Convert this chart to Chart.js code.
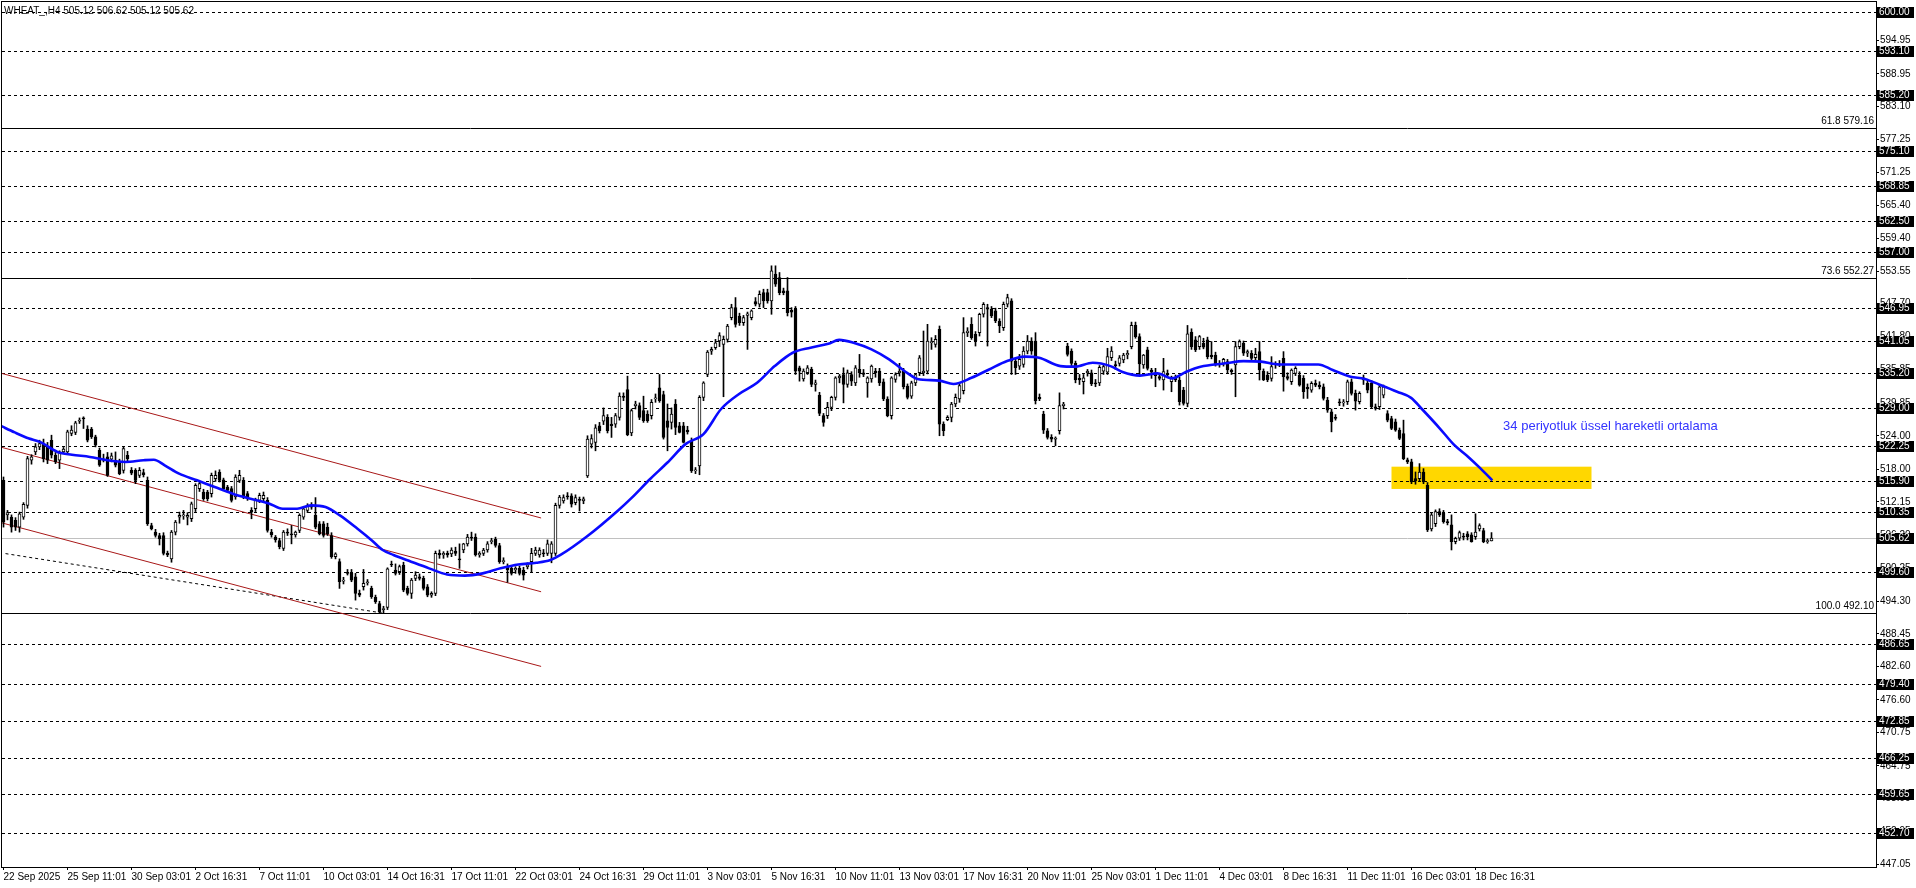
<!DOCTYPE html>
<html>
<head>
<meta charset="utf-8">
<script src="https://cdn.jsdelivr.net/npm/chart.js@4.4.1/dist/chart.umd.min.js"></script>
<style>
  html, body { margin: 0; padding: 0; background: #fff; overflow: hidden; }
  canvas { display: block; }
</style>
</head>
<body>
<canvas id="chart" width="1916" height="888"></canvas>
<script>
// WHEAT H4 candles
const opens = [
  516.0,509.8,509.4,508.8,507.6,509.4,511.5,519.6,521.1,522.0,
  522.6,522.0,523.2,520.5,519.6,521.1,521.1,524.4,524.6,526.6,
  527.2,525.2,525.2,523.8,521.4,519.8,520.2,519.8,519.6,519.3,
  517.8,520.5,517.8,517.8,516.9,517.4,516.0,507.9,506.7,506.1,
  506.1,502.9,501.9,506.7,509.4,509.6,509.4,509.1,510.9,514.5,
  513.9,513.9,513.6,516.3,517.5,516.1,514.8,514.5,513.0,516.0,
  516.0,513.6,510.6,510.9,512.4,512.7,512.4,506.7,505.8,505.2,
  503.8,506.7,506.4,506.2,507.0,509.4,510.6,511.5,509.7,508.2,
  508.2,507.6,506.1,502.3,501.4,497.9,499.5,499.3,498.7,495.7,
  496.9,497.6,496.6,495.0,493.9,492.8,493.2,500.9,499.9,499.6,
  500.8,496.6,495.7,498.4,498.7,498.4,496.9,495.4,495.7,502.9,
  502.6,502.9,502.8,503.3,501.9,503.5,504.6,505.8,505.8,502.6,
  502.9,503.5,505.0,505.4,504.3,501.4,500.5,500.2,499.9,500.2,
  499.9,500.5,501.4,502.9,502.6,503.0,502.9,502.9,502.9,511.5,
  512.3,513.2,513.2,512.0,512.6,512.3,516.8,522.5,522.8,525.8,
  526.6,527.3,526.1,526.1,527.3,531.1,532.3,524.5,529.4,529.4,
  528.5,527.9,527.6,530.6,532.6,531.4,526.7,526.4,529.7,525.8,
  525.8,525.0,523.1,517.7,518.6,530.9,535.0,539.2,539.8,541.0,
  540.4,541.3,545.2,547.0,545.5,544.3,545.6,545.2,548.1,547.6,
  549.7,549.7,548.2,553.0,552.4,550.0,550.0,546.5,546.7,536.2,
  534.2,535.3,535.9,533.2,531.3,527.6,527.6,529.1,530.9,534.4,
  535.0,533.2,535.0,533.5,535.9,535.3,533.5,534.2,535.6,535.6,
  533.7,530.6,527.6,534.1,535.3,535.6,532.9,531.1,533.5,535.3,
  535.3,535.6,540.7,540.4,543.1,526.1,526.9,527.3,529.7,530.6,
  532.1,542.5,544.0,542.2,542.5,545.8,547.0,546.7,546.4,544.6,
  543.4,547.6,548.2,537.4,536.5,536.8,539.2,541.0,541.0,530.9,
  527.9,524.9,523.7,523.4,524.9,529.4,540.1,539.2,537.0,534.3,
  533.7,535.3,535.3,533.5,533.5,535.6,535.4,538.0,536.6,537.0,
  537.6,538.5,540.0,543.8,541.8,536.7,539.4,535.8,535.3,534.6,
  534.0,535.2,533.7,534.3,534.0,532.2,529.8,542.6,541.2,540.0,
  540.6,541.2,538.5,538.5,537.0,537.0,537.3,535.8,536.7,540.0,
  540.6,538.8,538.8,538.0,539.1,535.6,534.9,534.3,536.7,536.9,
  537.9,534.6,533.7,535.2,534.9,534.3,532.7,532.2,533.4,533.1,
  532.8,530.4,528.3,527.3,530.0,529.9,530.1,533.7,531.6,530.1,
  534.0,533.4,533.4,529.2,529.2,531.3,528.0,527.1,526.5,525.0,
  524.4,519.7,519.3,516.3,516.3,517.5,515.1,507.3,508.2,510.4,
  510.1,508.6,508.0,505.0,505.6,506.0,506.4,506.2,505.9,507.3,
  507.0,505.0,505.12
];
const highs = [
  516.6,510.6,509.8,509.3,510.3,512.0,520.3,520.6,522.6,523.2,
  523.4,522.8,524.1,521.0,521.3,521.9,525.0,525.8,526.6,527.2,
  527.4,525.8,525.5,524.1,521.8,520.7,521.0,520.9,521.1,519.8,
  522.0,521.2,518.3,518.1,518.3,518.0,516.6,508.3,507.2,506.5,
  506.6,503.3,507.0,508.8,510.3,510.6,510.2,512.1,515.4,515.8,
  514.4,514.2,517.3,517.7,517.9,516.4,515.1,514.9,517.0,517.8,
  516.5,514.0,511.1,512.8,513.7,513.9,512.9,507.2,506.1,505.6,
  507.0,507.3,507.9,506.9,510.0,511.2,511.8,512.0,512.9,508.6,
  508.6,508.3,506.6,503.0,501.9,498.6,500.0,500.0,499.3,496.3,
  500.0,498.2,497.0,495.4,494.3,493.4,500.3,501.5,501.0,500.8,
  501.3,497.0,498.4,499.6,499.2,498.8,497.3,496.0,503.3,503.5,
  503.2,503.3,503.9,504.0,504.6,504.7,506.3,506.7,506.4,503.2,
  503.8,505.0,505.6,505.8,504.7,502.1,501.0,500.6,500.5,500.6,
  500.4,501.2,503.8,504.0,503.9,503.6,505.3,505.0,511.9,513.3,
  513.4,513.8,513.6,513.4,513.0,513.0,524.0,524.2,526.0,526.4,
  529.0,527.8,527.3,528.0,531.7,531.7,534.7,528.8,530.2,529.9,
  531.1,528.5,530.5,531.5,535.0,532.0,529.7,529.0,530.5,526.4,
  526.4,525.7,523.6,518.3,531.2,533.7,539.3,539.9,541.3,542.5,
  541.9,544.0,547.6,548.8,546.0,545.6,546.2,546.6,548.8,550.0,
  550.3,550.3,554.5,554.5,553.3,550.5,552.4,547.0,547.2,536.5,
  536.0,536.6,536.3,534.0,531.8,528.0,530.0,531.1,534.6,535.0,
  536.2,535.8,535.5,536.6,538.6,535.9,534.6,536.7,536.1,536.1,
  534.2,531.0,534.6,535.3,537.0,536.1,533.3,533.8,535.2,538.4,
  542.8,544.0,541.6,542.0,543.7,526.5,527.6,530.0,531.5,533.5,
  545.2,543.4,545.2,542.7,546.0,547.9,547.6,547.2,546.9,545.0,
  548.0,549.4,548.6,537.9,538.6,540.0,542.0,541.6,542.5,531.5,
  528.4,525.3,524.2,523.8,531.7,530.0,540.6,539.6,537.4,535.0,
  535.0,535.9,535.8,534.1,536.6,537.0,539.7,540.0,537.4,538.4,
  538.8,539.3,544.4,544.4,542.3,538.6,539.9,536.1,536.1,535.2,
  537.9,535.8,534.7,534.9,534.5,532.7,543.8,543.2,541.8,542.0,
  541.5,541.7,540.9,539.0,537.5,537.9,537.7,536.0,540.9,541.2,
  541.0,539.4,539.3,539.7,540.9,536.0,535.5,538.2,537.3,537.5,
  539.1,535.3,536.0,536.4,535.5,534.8,533.3,533.7,534.0,533.7,
  533.3,530.9,528.8,527.8,530.6,530.5,534.0,534.2,532.2,531.9,
  534.9,533.8,533.9,529.7,533.1,533.1,528.5,527.5,527.0,525.4,
  526.8,520.0,519.8,517.5,519.0,518.1,515.6,510.1,510.7,510.9,
  510.6,509.0,509.8,505.8,506.9,506.5,506.8,506.6,510.0,508.2,
  507.4,505.5,506.62
];
const lows = [
  507.6,508.9,506.7,507.0,506.7,509.0,511.0,518.9,520.6,521.5,
  519.3,519.0,520.0,519.0,518.1,520.8,520.8,524.0,524.2,526.2,
  525.3,522.9,523.5,522.0,518.5,519.3,516.7,519.3,518.4,517.0,
  517.3,519.4,517.0,515.4,516.5,516.6,507.9,507.1,505.8,504.4,
  502.6,502.3,501.3,506.2,508.3,509.0,508.0,508.6,510.4,514.0,
  512.4,512.3,513.0,515.8,515.7,514.3,514.0,512.1,512.6,515.6,
  512.7,512.4,509.1,510.4,512.0,512.2,506.7,505.8,504.9,503.7,
  503.4,506.1,504.6,505.8,506.6,509.0,510.2,510.8,507.3,506.2,
  505.8,506.1,502.0,501.9,496.6,497.4,499.0,497.8,494.5,495.1,
  496.3,497.2,494.8,493.9,492.1,492.2,492.8,500.5,499.0,499.1,
  496.0,495.4,494.8,498.0,498.1,496.3,495.1,495.0,495.3,502.0,
  502.0,502.2,502.3,502.5,500.2,503.0,504.2,505.2,502.4,502.2,
  502.5,503.1,504.6,504.0,501.1,501.0,497.7,499.0,499.3,499.0,
  498.1,500.1,499.6,502.5,502.2,502.3,502.5,501.2,502.5,511.0,
  511.9,512.6,511.2,511.6,510.5,511.8,516.5,521.8,521.3,524.5,
  526.0,524.5,523.7,525.5,526.8,530.3,524.0,524.0,528.8,526.9,
  526.4,526.4,527.0,530.0,530.0,523.4,521.3,525.2,524.2,524.5,
  522.7,524.3,517.4,517.2,517.0,530.3,534.6,538.6,539.5,540.0,
  531.0,540.8,544.8,543.5,543.8,543.8,539.5,544.8,547.3,547.1,
  547.0,547.8,545.8,550.8,549.3,549.3,545.5,545.3,535.0,533.8,
  533.8,535.0,532.8,532.0,527.6,525.7,527.1,528.5,530.4,533.5,
  529.9,532.7,533.0,533.0,534.5,534.6,530.9,533.6,534.5,533.0,
  530.3,527.4,527.0,533.6,534.7,532.4,530.6,530.7,533.0,534.8,
  534.8,535.1,539.5,539.9,524.0,524.0,526.7,526.5,529.2,530.0,
  531.5,541.8,541.3,540.1,541.9,545.3,540.1,545.2,544.3,542.5,
  542.9,547.1,535.0,535.0,535.9,536.3,538.7,538.6,529.7,530.3,
  524.4,523.4,522.9,522.2,524.3,528.8,538.3,536.3,533.5,533.2,
  531.5,534.7,533.0,532.8,533.0,535.0,535.0,537.5,535.9,536.5,
  537.1,537.8,539.6,541.5,534.9,536.1,535.8,534.3,532.8,534.0,
  532.2,534.6,531.9,533.7,529.5,529.5,529.2,539.5,539.1,539.5,
  539.6,537.8,537.8,536.5,536.3,536.5,535.2,535.0,531.0,539.6,
  538.4,538.2,537.5,537.6,534.0,533.9,533.7,533.8,536.1,536.4,
  532.0,534.0,533.2,534.8,532.9,530.7,530.7,531.8,532.8,532.4,
  530.4,528.2,524.7,526.8,529.4,529.3,529.6,531.3,528.6,529.7,
  533.2,531.7,528.9,528.6,528.7,530.8,526.5,525.1,524.8,523.3,
  519.7,519.0,515.4,515.3,515.9,515.4,506.8,506.9,507.7,509.5,
  508.3,508.0,503.5,504.6,505.2,505.3,505.3,504.9,505.4,506.9,
  504.8,504.7,505.12
];
const closes = [
  508.5,510.2,507.6,507.6,510.0,511.7,519.9,520.2,522.0,522.6,
  519.9,519.6,520.5,519.3,521.1,521.6,524.7,525.0,526.3,526.8,
  527.0,523.2,523.8,522.3,518.7,519.6,516.9,520.4,518.7,517.2,
  521.7,519.9,517.3,516.0,517.8,517.0,508.2,507.3,506.1,505.5,
  502.9,502.6,506.7,508.5,509.7,509.8,509.7,511.8,515.1,515.4,
  512.7,512.7,516.9,516.9,516.0,514.5,514.2,512.4,516.6,516.9,
  513.0,512.7,510.3,512.4,513.3,513.3,507.0,506.2,505.3,504.1,
  506.7,506.5,506.2,506.7,509.7,510.9,511.5,511.2,507.6,506.4,
  506.1,506.4,502.3,502.8,497.8,498.1,499.3,498.1,495.7,495.4,
  497.5,497.8,495.1,494.2,492.4,493.0,500.1,500.8,499.3,500.5,
  496.3,495.7,498.1,499.0,498.4,496.6,495.4,495.7,502.9,502.6,
  502.9,502.6,503.5,502.9,501.7,504.6,505.8,505.6,502.6,502.9,
  503.5,504.6,505.2,504.3,501.4,501.6,499.9,499.3,500.2,499.3,
  499.0,500.8,502.9,503.5,503.5,502.8,504.6,504.6,511.5,513.0,
  512.9,513.0,511.7,512.9,512.4,512.7,523.4,523.5,525.4,524.9,
  527.6,524.9,525.8,527.6,531.1,530.9,524.2,528.5,529.7,527.3,
  526.7,526.7,530.0,530.8,530.3,523.7,525.5,527.9,525.5,524.6,
  522.8,524.7,517.7,517.9,530.9,533.5,539.0,539.5,540.7,542.0,
  541.3,543.7,547.0,544.0,544.3,545.2,545.9,546.4,547.6,549.4,
  548.2,548.2,553.6,551.2,549.7,549.7,546.1,546.2,535.6,535.6,
  535.6,536.2,533.2,533.5,528.0,526.4,529.1,530.9,534.4,534.7,
  533.2,535.3,533.8,536.2,535.3,535.0,534.4,536.5,535.3,533.5,
  530.6,527.6,534.4,535.0,535.6,532.8,530.9,533.5,535.0,538.0,
  535.6,541.0,540.9,541.3,526.1,524.9,527.3,529.7,530.9,533.0,
  542.5,542.8,541.6,541.0,545.8,547.6,546.7,545.5,544.6,543.7,
  547.6,548.8,537.4,536.2,537.7,539.2,541.0,539.2,530.3,530.6,
  525.0,523.7,523.4,523.6,529.4,529.7,538.6,537.0,534.0,534.0,
  534.4,535.6,533.3,533.3,536.3,536.4,538.2,539.2,536.6,538.0,
  538.5,538.8,543.8,541.8,536.9,538.5,536.1,535.4,534.8,534.3,
  535.5,534.9,534.4,534.0,530.1,529.8,542.3,540.0,539.4,541.8,
  539.9,538.2,538.2,536.7,536.7,537.7,535.8,535.5,540.0,540.9,
  538.8,539.1,537.9,538.6,535.8,534.0,534.0,536.4,537.0,536.7,
  534.6,534.3,535.8,536.1,533.1,531.9,532.4,533.4,533.1,532.8,
  530.7,528.6,526.5,527.1,529.9,530.1,533.7,531.6,530.2,531.6,
  534.4,532.2,529.2,528.9,532.8,532.8,526.8,525.3,525.0,523.5,
  519.9,519.3,515.7,515.9,517.5,515.7,507.1,509.8,510.4,509.8,
  508.6,508.4,505.0,505.6,506.6,505.8,505.9,505.0,506.7,507.9,
  505.0,505.1,505.62
];

// one time label every 16 bars
const timeLabels = ['22 Sep 2025','25 Sep 11:01','30 Sep 03:01','2 Oct 16:31','7 Oct 11:01','10 Oct 03:01',
  '14 Oct 16:31','17 Oct 11:01','22 Oct 03:01','24 Oct 16:31','29 Oct 11:01','3 Nov 03:01','5 Nov 16:31',
  '10 Nov 11:01','13 Nov 03:01','17 Nov 16:31','20 Nov 11:01','25 Nov 03:01','1 Dec 11:01','4 Dec 03:01',
  '8 Dec 16:31','11 Dec 11:01','16 Dec 03:01','18 Dec 16:31'];

const priceTicks = [447.05,452.95,458.90,464.75,470.75,476.60,482.60,488.45,494.30,500.25,506.20,512.15,
  518.00,524.00,529.85,535.85,541.80,547.70,553.55,559.40,565.40,571.25,577.25,583.10,588.95,594.95,600.00];

// horizontal levels
const dashedLevels = [600.00,593.10,585.20,575.10,568.85,562.50,557.00,546.95,541.05,535.20,529.00,
  522.25,515.90,510.35,499.60,486.65,479.40,472.85,466.25,459.65,452.70];
const bidPrice = 505.62;
const fibPrices = [579.16, 552.27, 492.10];
const fibRatios = ['61.8', '73.6', '100.0'];

// 34 EMA, read as (bar, price) points
const emaBars = [-0.75,2.8,6.4,9.1,13.5,17.1,21.6,26,30.5,35,37.6,40.3,43.9,48.4,52.8,57.3,61.75,66.2,69.8,73.4,
  76.9,80.5,84.1,88.5,92.1,94.8,97.5,101.9,106.4,110.9,115.3,119.8,124.25,128.7,133.2,136.75,139.25,146,
  153.5,157.1,161.6,166,170.5,175,179.4,183.9,188.4,192.8,197.3,201.75,206.2,208.9,212.5,217,221.4,225.9,
  228.5,233.9,237.5,242,246.4,250.9,255.3,258.9,264.25,267.8,272.3,276.75,279.6,284.1,288.5,292.1,295.7,
  299.25,305.5,310,314.4,319,323.4,328.7,332.3,336.75,340.3,343.9,348.4,351.9,354.6,359.1,362.6,366.2,369.3,372.2];
const emaValues = [525.8,524.6,523.5,522.9,521.1,520.6,520.2,519.6,519.3,519.6,519.7,518.7,517.2,516.0,514.8,513.6,
  512.7,511.9,510.9,510.9,511.5,511.2,509.7,507.3,505.2,503.5,502.6,501.4,500.2,499.1,498.9,499.3,500.2,500.9,
  501.2,501.7,502.6,506.0,510.5,512.9,516.2,519.2,522.5,524.3,528.8,531.5,533.5,536.5,538.9,539.8,540.5,541.2,
  540.7,539.5,537.7,535.3,534.2,533.9,533.3,534.4,535.9,537.4,538.2,538.0,536.5,536.4,537.1,536.5,535.5,534.8,
  535.2,534.3,535.5,536.4,537.0,537.4,537.3,536.8,536.8,536.8,535.8,534.6,534.2,533.2,531.9,530.8,528.8,525.3,
  522.4,520.2,518.1,516.0];

// red channel and dashed support line: [bar, price] end points
const channelTop = [[-0.875, 535.27], [134.4, 509.24]];
const channelMid = [[-0.875, 522.0], [134.4, 496.0]];
const channelLow = [[-0.875, 508.45], [134.4, 482.6]];
const supportLine = [[0.5, 502.85], [94.6, 492.2]];

// yellow zone
const zoneBars = [347, 397];
const zonePrices = [514.45, 518.45];
const noteAt = [374.9, 525.6];

const FONT = "'Liberation Sans', Arial, sans-serif";

const toPts = (pairs) => pairs.map(p => ({ x: p[0], y: p[1] }));
const fmt = (v) => v.toFixed(2);

const mtDecor = {
    id: 'mtDecor',
    beforeDatasetsDraw(chart) {
        const { ctx, chartArea: a, scales: { x, y } } = chart;
        ctx.save();
        ctx.beginPath();
        ctx.rect(a.left, a.top, a.right - a.left, a.bottom - a.top);
        ctx.clip();

        const zx0 = x.getPixelForValue(zoneBars[0]);
        const zx1 = x.getPixelForValue(zoneBars[1]);
        const zy0 = y.getPixelForValue(zonePrices[1]);
        const zy1 = y.getPixelForValue(zonePrices[0]);
        ctx.fillStyle = '#ffd700';
        ctx.fillRect(zx0, zy0, zx1 - zx0, zy1 - zy0);

        ctx.lineWidth = 1;
        ctx.strokeStyle = '#000';
        ctx.setLineDash([3, 3]);
        dashedLevels.forEach(v => {
            const py = Math.round(y.getPixelForValue(v)) + 0.5;
            ctx.beginPath();
            ctx.moveTo(a.left, py);
            ctx.lineTo(a.right, py);
            ctx.stroke();
        });
        ctx.setLineDash([]);

        const by = Math.round(y.getPixelForValue(bidPrice)) + 0.5;
        ctx.strokeStyle = '#c0c0c0';
        ctx.beginPath();
        ctx.moveTo(a.left, by);
        ctx.lineTo(a.right, by);
        ctx.stroke();

        ctx.strokeStyle = '#000';
        fibPrices.forEach(v => {
            const py = Math.round(y.getPixelForValue(v)) + 0.5;
            ctx.beginPath();
            ctx.moveTo(a.left, py);
            ctx.lineTo(a.right, py);
            ctx.stroke();
        });
        ctx.restore();
    },
    afterDraw(chart) {
        const { ctx, chartArea: a, scales: { x, y } } = chart;
        ctx.save();

        // frame
        ctx.strokeStyle = '#000';
        ctx.lineWidth = 1;
        ctx.strokeRect(a.left - 0.5, a.top - 0.5, a.right - a.left + 1, a.bottom - a.top + 1);

        // price boxes on the right axis
        ctx.font = '10px ' + FONT;
        ctx.textBaseline = 'middle';
        ctx.textAlign = 'left';
        dashedLevels.concat([bidPrice]).forEach(v => {
            const py = Math.round(y.getPixelForValue(v));
            ctx.fillStyle = '#000';
            ctx.fillRect(a.right, py - 5, 38, 11);
            ctx.fillStyle = '#fff';
            ctx.fillText(fmt(v), a.right + 3, py + 0.5);
        });

        // fibo labels
        ctx.fillStyle = '#000';
        ctx.textAlign = 'right';
        fibPrices.forEach((v, k) => {
            const py = y.getPixelForValue(v);
            ctx.fillText(fibRatios[k] + ' ' + fmt(v), a.right - 2, py - 7);
        });

        // symbol header
        const n = closes.length - 1;
        ctx.textAlign = 'left';
        ctx.fillText('WHEAT_,H4 ' + [opens[n], highs[n], lows[n], closes[n]].map(fmt).join(' '), 4, 11);

        // EMA note
        ctx.font = '13px ' + FONT;
        ctx.fillStyle = '#3333ff';
        ctx.fillText('34 periyotluk üssel hareketli ortalama', x.getPixelForValue(noteAt[0]), y.getPixelForValue(noteAt[1]));
        ctx.restore();
    }
};

const wickData = highs.map((h, i) => ({ x: i, y: [lows[i], h] }));
const bodyData = opens.map((o, i) => ({ x: i, y: [o, closes[i]] }));
const bodyColors = opens.map((o, i) => (closes[i] > o ? '#ffffff' : '#000000'));
const emaData = emaBars.map((b, k) => ({ x: b, y: emaValues[k] }));

const lineSet = (pairs, color, dash) => ({
    type: 'line',
    data: toPts(pairs),
    borderColor: color,
    borderWidth: 1,
    borderDash: dash || [],
    pointRadius: 0,
    order: 5
});

new Chart(document.getElementById('chart'), {
    type: 'bar',
    data: {
        datasets: [
            lineSet(channelTop, '#a81818'),
            lineSet(channelMid, '#a81818'),
            lineSet(channelLow, '#a81818'),
            lineSet(supportLine, '#000', [3, 3]),
            {
                data: wickData,
                backgroundColor: '#000',
                borderWidth: 0,
                barThickness: 1,
                grouped: false,
                order: 3
            },
            {
                data: bodyData,
                backgroundColor: bodyColors,
                borderColor: '#000',
                borderWidth: 1,
                borderSkipped: false,
                barThickness: 3,
                minBarLength: 1,
                grouped: false,
                order: 2
            },
            {
                type: 'line',
                data: emaData,
                borderColor: '#0a0aff',
                borderWidth: 2.6,
                pointRadius: 0,
                cubicInterpolationMode: 'monotone',
                order: 1
            }
        ]
    },
    options: {
        responsive: false,
        animation: false,
        events: [],
        layout: { padding: { left: 2, top: 2, right: 0, bottom: 0 } },
        plugins: { legend: { display: false }, tooltip: { enabled: false } },
        scales: {
            x: {
                type: 'linear',
                position: 'bottom',
                min: -0.375,
                max: 468.125,
                offset: false,
                grid: { display: true, offset: false, drawOnChartArea: false, drawTicks: true, tickLength: 3, color: '#000' },
                border: { display: true, color: '#000' },
                afterBuildTicks: (axis) => { axis.ticks = timeLabels.map((_, k) => ({ value: k * 16 })); },
                afterFit: (s) => { s.height = 21; s.paddingLeft = 0; s.paddingRight = 0; },
                ticks: {
                    autoSkip: false,
                    maxRotation: 0,
                    align: 'start',
                    padding: 1,
                    color: '#000',
                    font: { family: FONT, size: 10 },
                    callback: (v, idx) => timeLabels[idx]
                }
            },
            y: {
                type: 'linear',
                position: 'right',
                min: 446.6,
                max: 601.85,
                grid: { display: true, drawOnChartArea: false, drawTicks: true, tickLength: 3, color: '#000' },
                border: { display: true, color: '#000' },
                afterBuildTicks: (axis) => { axis.ticks = priceTicks.map(v => ({ value: v })); },
                afterFit: (s) => { s.width = 40; s.paddingTop = 0; s.paddingBottom = 0; },
                ticks: {
                    autoSkip: false,
                    padding: 1,
                    color: '#000',
                    font: { family: FONT, size: 10 },
                    callback: (v) => fmt(v)
                }
            }
        }
    },
    plugins: [mtDecor]
});
</script>
</body>
</html>
